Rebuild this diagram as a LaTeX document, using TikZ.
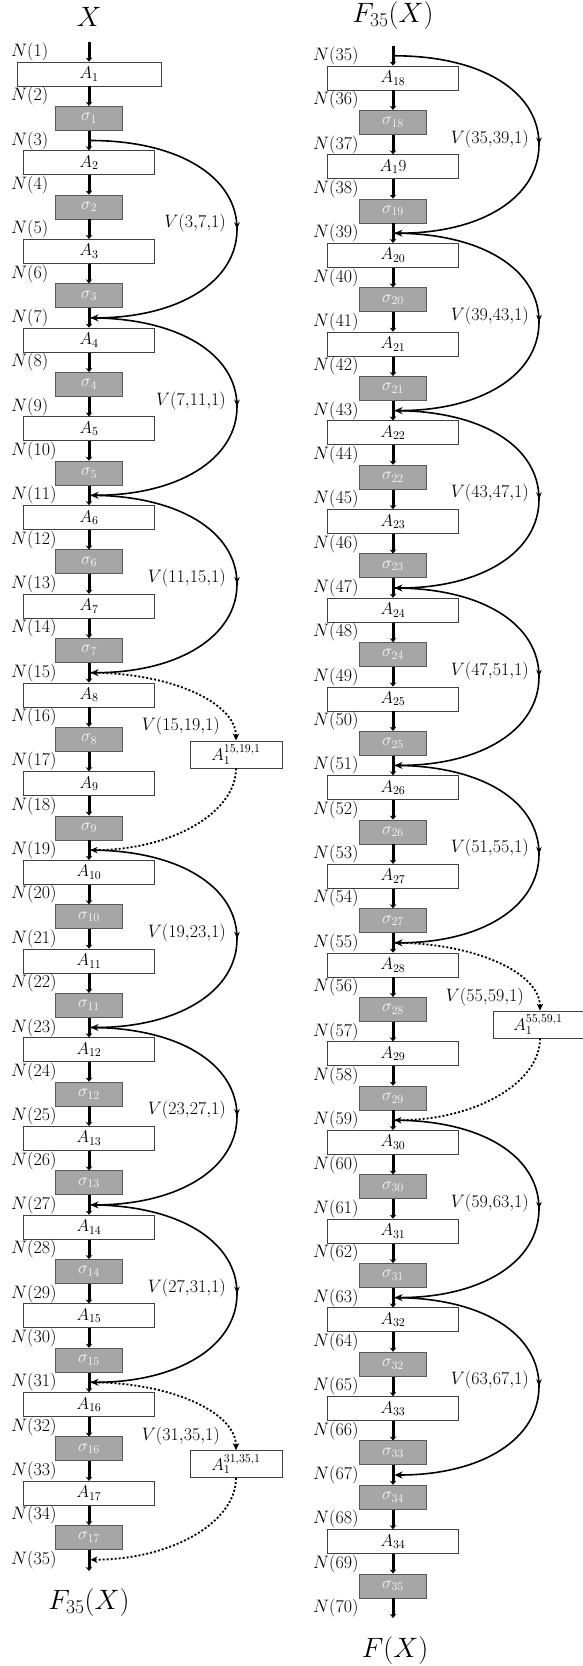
\RequirePackage{fix-cm}
\documentclass[tikz,border=0pt]{standalone}
\usetikzlibrary{arrows.meta,decorations.markings}
\definecolor{sgfill}{HTML}{A6A6A6}
\definecolor{sgdraw}{HTML}{595959}
\definecolor{adraw}{HTML}{404040}
\definecolor{stext}{HTML}{F4F4F4}
\begin{document}
\begin{tikzpicture}[x=1pt,y=-1pt,
  abox/.style={draw=adraw,fill=white,line width=0.8pt,minimum width=131pt,minimum height=24pt,inner sep=0pt,font=\fontsize{17}{20}\selectfont},
  sbox/.style={draw=sgdraw,fill=sgfill,line width=0.8pt,minimum width=67pt,minimum height=24pt,inner sep=0pt,text=stext,font=\fontsize{17}{20}\selectfont},
  vbox/.style={draw=adraw,fill=white,line width=0.8pt,minimum width=92pt,minimum height=27pt,inner sep=0pt,font=\fontsize{17}{20}\selectfont},
  vline/.style={line width=3pt,-{Stealth[length=4pt,width=6.5pt]}},
  varc/.style={line width=1.6pt,-{Stealth[length=8pt,width=7pt]},postaction={decorate},
    decoration={markings,mark=at position 0.5 with {\arrow{Stealth[length=7pt,width=5.5pt]}}}},
  vdot/.style={line width=1.8pt,dash pattern=on 2pt off 2pt,-{Stealth[length=7pt,width=6.5pt]}},
  nlab/.style={anchor=west,inner sep=0pt,font=\fontsize{18}{21}\selectfont},
  vlab/.style={anchor=east,inner sep=0pt,font=\fontsize{18}{21}\selectfont},
  ttl/.style={inner sep=0pt,font=\fontsize{28}{32}\selectfont}]
\useasboundingbox (0,0) rectangle (582,1666);
\fill[white] (0,0) rectangle (582,1666);

% titles
\node[ttl] (tX) at (89,17) {$X$};
\node[ttl] (tF1) at (89,1602) {$F_{35}(X)$};
\node[ttl] (tF2) at (393,15) {$F_{35}(X)$};
\node[ttl] (tF3) at (395,1650) {$F(X)$};

% ---------- left column ----------
\node[abox,minimum width=144pt] (L0) at (89,74) {$A_{1}$};
\foreach \i in {1,...,33} {
  \pgfmathsetmacro\yy{74+44.35*\i}
  \pgfmathtruncatemacro\k{div(\i,2)+1}
  \ifodd\i
    \node[sbox] (L\i) at (89,\yy) {$\sigma_{\k}$};
  \else
    \node[abox] (L\i) at (89,\yy) {$A_{\k}$};
  \fi
}
\coordinate (LT) at (89,42);
\coordinate (LB) at (89,1571);
\draw[vline] (LT) -- (L0.north);
\foreach \i in {0,...,32} {
  \pgfmathtruncatemacro\j{\i+1}
  \draw[vline] (L\i.south) -- (L\j.north);
}
\draw[vline] (L33.south) -- (LB);
\foreach \k in {1,...,35} {
  \pgfmathsetmacro\yy{51.8+44.35*(\k-1)}
  \coordinate (JL\k) at (90.5,\yy);
  \node[nlab] (NL\k) at (11,\yy) {$N(\k)$};
}
\foreach \s/\e in {3/7,7/11,11/15,19/23,23/27,27/31} {
  \pgfmathsetmacro\ym{51.8+44.35*((\s+\e)/2-1)}
  \coordinate (ML\s) at (237,\ym);
  \draw[varc] (JL\s) .. controls +(87,0) and +(0,-53) .. (ML\s)
              .. controls +(0,53) and +(87,0) .. (JL\e);
  \node[vlab] (VL\s) at (226,\ym-6) {$V(\s{,}\e{,}1)$};
}
\foreach \s/\e in {15/19,31/35} {
  \pgfmathsetmacro\ym{51.8+44.35*((\s+\e)/2-1)-7}
  \node[vbox] (BL\s) at (236,\ym) {$A_1^{\s,\e,1}$};
  \draw[vdot] (JL\s) .. controls +(80,0) and +(0,-38) .. (BL\s.north);
  \draw[vdot] (BL\s.south) .. controls +(0,45) and +(80,0) .. (JL\e);
  \node[vlab] (VL\s) at (220,\ym-28) {$V(\s{,}\e{,}1)$};
}

% ---------- right column ----------
\foreach \i in {0,...,31} {
  \pgfmathsetmacro\yy{78+44.35*\i}
  \pgfmathtruncatemacro\k{div(\i,2)+18}
  \ifodd\i
    \node[sbox] (R\i) at (393,\yy) {$\sigma_{\k}$};
  \else
    \ifnum\i=2
      \node[abox] (R\i) at (393,\yy) {$A_{1}9$};
    \else
      \node[abox] (R\i) at (393,\yy) {$A_{\k}$};
    \fi
  \fi
}
\node[sbox] (R32) at (393,{78+44.35*32}) {$\sigma_{34}$};
\node[abox] (R33) at (393,{78+44.35*33}) {$A_{34}$};
\node[sbox] (R34) at (393,{78+44.35*34}) {$\sigma_{35}$};
\coordinate (RT) at (393,46);
\coordinate (RB) at (393,1618);
\draw[vline] (RT) -- (R0.north);
\foreach \i in {0,...,33} {
  \pgfmathtruncatemacro\j{\i+1}
  \draw[vline] (R\i.south) -- (R\j.north);
}
\draw[vline] (R34.south) -- (RB);
\foreach \k in {35,...,70} {
  \pgfmathsetmacro\yy{55.8+44.35*(\k-35)}
  \coordinate (JR\k) at (394.5,\yy);
  \node[nlab] (NR\k) at (313,\yy) {$N(\k)$};
}
\foreach \s/\e in {35/39,39/43,43/47,47/51,51/55,59/63,63/67} {
  \pgfmathsetmacro\ym{55.8+44.35*((\s+\e)/2-35)}
  \coordinate (MR\s) at (539,\ym);
  \draw[varc] (JR\s) .. controls +(87,0) and +(0,-53) .. (MR\s)
              .. controls +(0,53) and +(87,0) .. (JR\e);
  \node[vlab] (VR\s) at (529,\ym-6) {$V(\s{,}\e{,}1)$};
}
\foreach \s/\e in {55/59} {
  \pgfmathsetmacro\ym{55.8+44.35*((\s+\e)/2-35)-7}
  \node[vbox,minimum width=96pt] (BR\s) at (541,\ym) {$A_1^{\s,\e,1}$\hspace*{6pt}};
  \draw[vdot] (JR\s) .. controls +(80,0) and +(0,-38) .. ([xshift=-1pt]BR\s.north);
  \draw[vdot] ([xshift=-1pt]BR\s.south) .. controls +(0,45) and +(80,0) .. (JR\e);
  \node[vlab] (VR\s) at (524,\ym-28) {$V(\s{,}\e{,}1)$};
}
\end{tikzpicture}
\end{document}
